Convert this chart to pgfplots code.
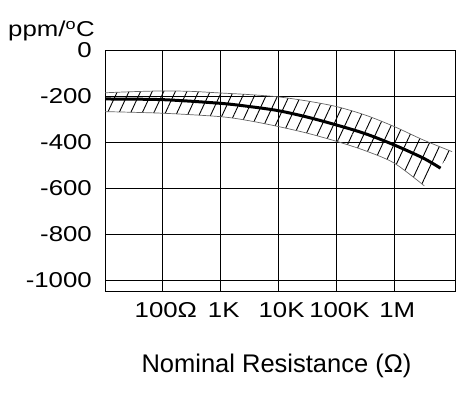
\documentclass[border=0pt]{standalone}
\usepackage{fontspec}
\setmainfont{Liberation Sans}
\newfontfamily\tickfont{Liberation Sans}[FakeStretch=1.2]
\usepackage{pgfplots}
\pgfplotsset{compat=1.18}
\usetikzlibrary{patterns.meta}
\usepgfplotslibrary{fillbetween}
\begin{document}
\begin{tikzpicture}
\begin{axis}[at={(0,0)}, anchor=south west, scale only axis,
  width=350bp, height=241bp,
  xmin=1, xmax=7.05, ymin=-1048, ymax=0,
  xtick={2,3,4,5,6}, xticklabels={100Ω,1K,10K,100K,1M},
  ytick={-1000,-800,-600,-400,-200,0},
  yticklabels={-1000,-800,-600,-400,-200,0},
  grid=major, major grid style={black, line width=0.8bp},
  axis line style={black, line width=0.8bp},
  major tick length=0pt,
  tick label style={font=\tickfont\fontsize{21.5bp}{24bp}\selectfont, inner sep=0pt},
  yticklabel style={anchor=east, xshift=-13bp},
  xticklabel style={anchor=base, yshift=-26bp, xshift=3bp},
]
\addplot[name path=U, black!60, line width=0.7bp, smooth] coordinates {
(1,-186) (1.5,-181) (2,-178) (2.5,-180) (3,-187) (3.5,-194) (4,-204) (4.5,-222) (5,-246) (5.5,-283) (6,-333) (6.5,-391) (7,-442)};
\addplot[name path=L, black!60, line width=0.7bp, smooth] coordinates {
(1,-268) (2,-275) (3,-290) (3.5,-308) (4,-333) (4.5,-362) (5,-397) (5.5,-438) (6,-492) (6.52,-591)};
\addplot[draw=none, pattern={Lines[angle=65,distance=10.5bp,line width=0.9bp]}, pattern color=black] fill between[of=U and L];
\addplot[black, line width=3bp, smooth] coordinates {
(1,-213) (2,-216) (3,-232) (3.5,-246) (4,-264) (4.5,-292) (5,-326) (5.5,-364) (6,-413) (6.5,-470) (6.8,-514)};
\end{axis}
\node[anchor=base west, inner sep=0pt] at (-97bp,254bp) {\tickfont\fontsize{21.5bp}{24bp}\selectfont ppm/\textsuperscript{o}C};
\node[anchor=base, inner sep=0pt] at (171.5bp,-81bp) {\fontsize{25.5bp}{28bp}\selectfont Nominal Resistance (Ω)};
\pgfresetboundingbox
\path (-105bp,-102bp) rectangle (353bp,291bp);
\end{tikzpicture}
\end{document}
